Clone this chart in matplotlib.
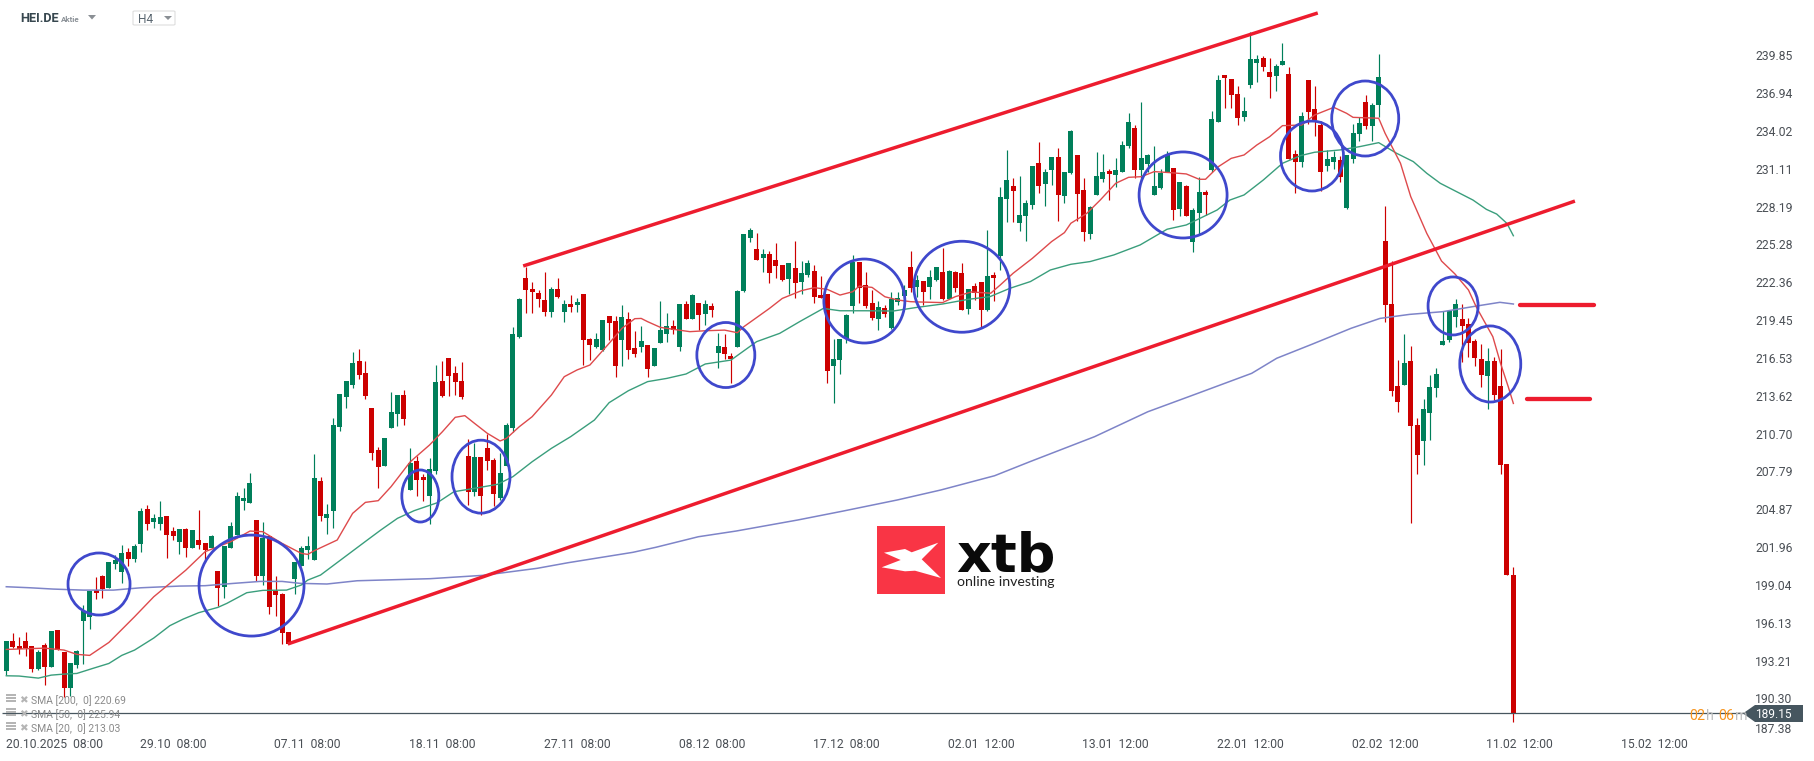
import matplotlib
matplotlib.use("Agg")
from matplotlib import pyplot as plt
from matplotlib.patches import Ellipse, Polygon, Rectangle, FancyBboxPatch

opens = [
    192.44, 194.72, 194.34, 194.72, 194.34, 192.57, 194.42, 192.72, 195.57, 193.88,
    191.10, 192.88, 196.26, 196.57, 198.63, 199.73, 198.81, 200.66, 200.04, 201.58,
    201.04, 202.20, 204.89, 203.89, 203.74, 204.35, 203.20, 202.35, 203.35, 201.89,
    202.51, 202.27, 201.89, 200.12, 198.88, 201.89, 202.89, 205.51, 205.36, 204.05,
    199.73, 202.81, 198.58, 198.35, 195.42, 199.50, 200.50, 201.73, 200.96, 207.05,
    204.20, 204.74, 211.21, 213.52, 214.45, 216.30, 215.37, 212.68, 209.44, 208.21,
    211.14, 212.22, 213.68, 206.36, 208.59, 207.36, 205.90, 207.82, 214.76, 216.53,
    215.37, 214.76, 208.98, 206.21, 208.90, 209.60, 208.67, 205.74, 208.21, 211.14,
    218.15, 222.69, 221.85, 221.54, 221.00, 220.07, 221.85, 220.07, 220.69, 220.61,
    221.46, 217.99, 217.38, 217.15, 219.77, 219.38, 217.91, 219.53, 217.30, 217.38,
    217.53, 215.91, 217.68, 218.38, 218.99, 217.38, 220.69, 219.53, 220.76, 219.92,
    220.53, 216.91, 217.38, 216.68, 217.38, 221.69, 225.77, 224.93, 224.23, 224.54,
    224.08, 223.69, 222.61, 223.46, 222.38, 222.92, 223.23, 221.38, 221.46, 215.91,
    216.37, 217.99, 220.53, 223.92, 222.15, 220.76, 219.53, 220.38, 218.84, 220.84,
    221.30, 223.54, 222.00, 222.47, 222.00, 222.54, 223.16, 221.08, 223.16, 223.08,
    220.31, 222.08, 222.39, 220.23, 222.93, 224.39, 228.78, 229.78, 226.93, 227.47,
    228.32, 231.56, 229.94, 231.02, 232.02, 229.01, 230.79, 232.17, 229.48, 226.09,
    229.09, 230.32, 230.94, 230.63, 230.86, 232.87, 234.25, 231.02, 231.48, 229.09,
    229.63, 230.86, 231.17, 228.01, 229.78, 225.47, 227.70, 229.32, 231.01, 234.71,
    238.33, 238.02, 236.87, 235.10, 237.56, 239.26, 239.64, 238.56, 238.26, 239.10,
    238.41, 232.25, 231.63, 237.95, 235.71, 234.48, 231.32, 231.63, 231.78, 228.09,
    231.86, 233.79, 236.25, 234.40, 236.02, 225.54, 220.69, 214.37, 214.45, 216.30,
    211.37, 210.13, 212.29, 214.22, 217.53, 217.91, 219.69, 219.53, 219.15, 217.84,
    216.45, 215.14, 216.30, 214.37, 208.36, 199.81,
]
closes = [
    194.72, 194.26, 194.11, 194.18, 192.57, 193.88, 192.72, 195.49, 194.03, 191.10,
    193.03, 193.95, 197.04, 198.58, 198.42, 198.73, 200.81, 200.96, 201.50, 201.04,
    202.04, 204.74, 203.74, 204.20, 204.28, 202.89, 202.81, 203.35, 201.89, 203.28,
    202.12, 201.73, 202.81, 198.81, 202.04, 203.58, 205.90, 205.74, 206.90, 199.73,
    202.66, 197.34, 198.27, 195.34, 194.49, 200.81, 201.89, 202.04, 207.28, 204.36,
    204.51, 211.37, 213.76, 214.76, 216.14, 215.22, 213.60, 209.21, 208.13, 210.37,
    212.37, 213.68, 211.83, 208.44, 207.13, 207.13, 207.98, 214.68, 213.60, 215.14,
    214.68, 213.52, 206.21, 208.90, 205.90, 208.59, 206.05, 207.67, 211.37, 218.38,
    221.07, 221.77, 221.61, 221.07, 220.07, 221.85, 221.23, 220.69, 220.46, 220.84,
    217.92, 217.53, 217.99, 219.46, 219.23, 215.91, 219.69, 217.14, 216.84, 217.84,
    215.68, 217.30, 218.68, 218.99, 218.68, 220.69, 219.53, 221.38, 219.84, 220.69,
    220.23, 217.45, 216.84, 216.45, 221.69, 226.08, 226.39, 224.08, 224.54, 223.08,
    223.62, 222.54, 223.85, 222.31, 223.08, 223.85, 221.23, 221.15, 215.53, 216.45,
    217.99, 219.84, 223.92, 221.92, 220.53, 219.61, 220.46, 219.92, 221.07, 221.15,
    221.77, 221.93, 222.54, 221.62, 222.77, 223.54, 221.08, 223.24, 221.93, 220.23,
    221.85, 221.54, 220.23, 222.85, 222.70, 228.94, 230.25, 229.40, 227.55, 228.47,
    231.33, 229.78, 230.86, 232.02, 229.09, 230.86, 234.02, 229.17, 226.24, 228.17,
    230.56, 230.86, 230.71, 231.02, 232.94, 234.72, 231.02, 231.94, 232.17, 229.78,
    230.79, 232.17, 227.94, 230.09, 227.47, 227.94, 229.32, 229.09, 234.94, 237.95,
    238.10, 236.79, 235.02, 235.56, 239.57, 239.57, 238.95, 238.18, 239.03, 239.41,
    231.86, 231.63, 235.17, 235.48, 234.87, 230.86, 231.86, 232.02, 230.47, 232.17,
    233.86, 234.63, 234.40, 236.02, 238.18, 220.61, 213.99, 213.14, 216.14, 211.29,
    209.05, 212.60, 214.29, 215.30, 217.84, 220.15, 220.69, 218.99, 217.68, 216.53,
    215.22, 216.30, 213.68, 208.28, 199.81, 189.15,
]
highs = [
    194.72, 195.31, 195.01, 195.42, 194.34, 194.03, 194.54, 195.49, 195.57, 193.88,
    193.03, 194.03, 197.50, 198.58, 199.65, 199.81, 200.81, 201.35, 202.12, 201.89,
    202.20, 204.97, 205.20, 204.51, 205.51, 204.35, 203.51, 203.35, 203.43, 203.28,
    204.82, 202.27, 202.89, 200.12, 202.04, 203.89, 206.20, 206.51, 207.67, 204.05,
    203.89, 202.81, 199.73, 198.42, 195.42, 200.81, 202.04, 202.81, 209.13, 207.36,
    205.28, 211.91, 213.76, 214.76, 216.99, 217.22, 216.30, 212.68, 209.67, 210.37,
    213.91, 213.68, 214.06, 209.60, 208.98, 207.59, 208.83, 215.99, 216.30, 216.53,
    215.91, 216.22, 210.29, 209.98, 208.90, 210.67, 208.83, 209.21, 211.52, 218.92,
    221.15, 223.54, 222.38, 221.77, 223.15, 222.00, 222.69, 221.00, 221.38, 221.15,
    221.46, 218.07, 218.46, 219.46, 219.77, 219.77, 220.61, 220.07, 218.61, 218.99,
    217.53, 217.30, 220.92, 219.99, 219.46, 220.69, 220.92, 221.46, 220.76, 221.00,
    220.76, 218.45, 218.38, 216.91, 221.77, 226.08, 226.54, 226.16, 224.93, 224.77,
    225.39, 223.69, 223.85, 225.54, 224.00, 224.08, 223.69, 222.85, 221.46, 217.99,
    217.99, 219.92, 224.46, 223.92, 223.15, 221.77, 220.92, 220.61, 221.61, 221.61,
    222.15, 224.78, 222.93, 222.47, 223.31, 223.54, 225.01, 223.31, 223.24, 223.85,
    221.85, 222.31, 222.39, 226.39, 223.16, 229.71, 232.56, 230.40, 230.56, 228.71,
    231.33, 233.17, 231.09, 232.02, 232.71, 230.86, 234.10, 232.17, 230.40, 228.24,
    232.40, 232.25, 231.09, 231.94, 233.25, 235.41, 234.48, 236.26, 232.25, 232.87,
    231.09, 232.48, 231.17, 230.09, 229.86, 228.09, 230.48, 229.48, 235.56, 238.33,
    238.33, 238.02, 237.49, 236.64, 241.65, 239.87, 239.80, 239.64, 239.18, 240.80,
    238.95, 232.55, 235.48, 237.95, 237.49, 234.79, 232.55, 232.48, 232.09, 232.17,
    234.56, 235.10, 236.79, 236.18, 239.95, 228.24, 224.00, 216.37, 218.38, 217.45,
    211.91, 213.37, 215.22, 215.76, 220.15, 220.15, 221.07, 220.69, 219.61, 217.99,
    217.61, 217.30, 216.60, 217.22, 208.36, 200.43,
]
lows = [
    192.10, 194.16, 193.70, 193.59, 192.36, 192.49, 191.33, 192.72, 194.03, 190.44,
    190.49, 192.67, 192.95, 195.65, 197.96, 198.04, 198.81, 200.27, 199.19, 200.50,
    200.81, 201.58, 203.28, 203.43, 203.28, 201.12, 202.51, 201.43, 201.20, 201.89,
    201.81, 200.81, 201.89, 197.42, 198.04, 201.89, 202.89, 204.82, 205.36, 199.35,
    199.04, 196.80, 196.65, 194.49, 194.49, 198.35, 200.50, 201.04, 200.96, 203.97,
    202.97, 203.43, 210.91, 212.68, 214.22, 214.91, 213.37, 208.67, 206.51, 208.21,
    211.14, 211.29, 211.37, 206.36, 205.90, 205.51, 203.74, 207.59, 213.52, 213.60,
    213.68, 213.37, 205.20, 205.90, 204.43, 207.90, 205.13, 205.59, 208.21, 210.83,
    218.07, 220.00, 220.00, 220.46, 219.77, 219.69, 221.15, 219.30, 220.07, 220.07,
    215.99, 216.38, 217.30, 217.07, 217.92, 215.07, 215.91, 216.45, 216.60, 216.99,
    215.06, 215.91, 217.68, 217.76, 218.38, 217.07, 219.53, 219.53, 218.68, 219.07,
    219.69, 215.76, 216.45, 214.60, 217.38, 221.61, 225.46, 224.08, 223.15, 222.31,
    222.69, 222.46, 221.46, 221.15, 221.46, 222.77, 220.76, 221.15, 214.60, 213.06,
    215.30, 217.68, 219.99, 220.76, 220.38, 219.46, 218.68, 219.69, 218.76, 220.61,
    221.12, 221.62, 221.26, 220.62, 221.08, 222.47, 221.00, 221.08, 221.62, 220.23,
    219.92, 221.00, 218.92, 220.15, 220.92, 223.31, 227.01, 227.01, 226.32, 225.55,
    228.01, 229.25, 228.24, 229.86, 227.09, 228.47, 230.71, 227.09, 225.55, 225.70,
    229.09, 230.09, 228.71, 229.71, 230.86, 232.71, 230.40, 230.32, 230.86, 229.09,
    229.55, 230.86, 227.17, 227.47, 227.47, 224.70, 226.01, 227.55, 230.86, 234.71,
    235.79, 235.79, 234.48, 234.79, 237.33, 237.79, 238.64, 236.56, 237.10, 239.10,
    231.86, 229.24, 231.25, 234.56, 233.63, 229.40, 230.94, 231.09, 230.09, 228.01,
    231.55, 233.25, 234.17, 233.25, 235.10, 219.30, 213.60, 212.37, 214.45, 203.82,
    207.59, 208.28, 210.21, 213.52, 217.53, 217.76, 218.92, 216.22, 216.60, 215.91,
    214.29, 212.60, 213.29, 207.59, 199.81, 188.49,
]

# moving averages at a set of candle numbers
sma20_i = [0, 3, 6, 9, 11, 13, 16, 20, 23, 28, 31, 35, 38, 40, 43, 46, 47, 48,
           51.6, 54, 56, 58, 60, 63, 66, 68, 70, 71.5, 73, 75, 77, 78, 80, 82, 85,
           87, 89, 91, 94, 96, 98, 99, 100, 102, 104, 106.6, 109, 112, 114, 115,
           119, 121, 124, 126, 128, 130, 132, 133, 135, 137, 139, 141, 142, 146,
           148, 150.5, 153.5, 155, 157, 160, 163, 165, 166, 168.5, 170.6, 173,
           175, 177, 179, 181.5, 184, 186, 187, 189, 191, 193, 195, 197, 199, 202,
           204, 207, 209, 210, 214, 215, 217.4, 219, 221.5, 223.8, 225.9, 228,
           229.2, 231.8, 233, 234.2, 235]
sma20 = [194.08, 194.13, 194.18, 194.03, 193.70, 193.62, 194.62, 196.60, 198.14,
         200.19, 201.61, 202.38, 203.20, 203.15, 202.25, 201.48, 201.40, 201.68,
         202.51, 204.56, 205.41, 205.54, 206.62, 208.54, 209.83, 210.85, 211.96,
         212.09, 211.50, 210.73, 210.14, 210.34, 211.24, 212.01, 213.68, 215.09,
         215.61, 215.99, 217.66, 218.81, 219.56, 219.58, 219.33, 218.89, 218.74,
         218.56, 218.63, 218.68, 218.48, 218.94, 220.35, 221.12, 221.72, 221.95,
         221.82, 221.38, 221.64, 222.07, 221.97, 221.25, 221.00, 220.87, 220.85,
         220.80, 221.26, 221.62, 221.52, 222.16, 223.06, 224.21, 225.50, 226.19,
         226.91, 227.68, 228.71, 229.99, 230.45, 230.50, 230.89, 230.81, 230.71,
         230.30, 230.30, 231.27, 231.91, 232.17, 232.94, 233.58, 234.43, 234.48,
         235.25, 235.84, 235.38, 235.07, 235.00, 233.84, 231.53, 228.96, 226.13,
         224.00, 223.00, 221.77, 220.48, 218.17, 216.12, 214.32, 213.03]

sma50_i = [0, 2, 5, 7, 9, 11, 13.5, 16, 18, 20, 23, 25.5, 27.6, 30, 33, 34.4, 37.5,
           40, 43.7, 46, 47, 49, 56.3, 58.4, 61, 63.6, 67.2, 69.8, 73, 76.6, 79, 82,
           85, 88, 91.7, 94, 97, 100, 103, 106, 109, 113, 117, 120.6, 123.7, 127.4,
           130, 134, 138.3, 142, 146, 150, 153.4, 156.5, 159.7, 162.8, 166, 169,
           172.7, 176.8, 181, 184, 188.8, 190.8, 193, 196, 199, 201.8, 204, 208,
           211, 214, 216.8, 219.4, 221.5, 223.6, 228.7, 230.8, 232.4, 234, 235]
sma50 = [192.05, 192.03, 191.87, 192.10, 192.18, 192.23, 192.62, 193.00, 193.62,
         194.03, 194.96, 195.91, 196.42, 196.91, 197.32, 197.63, 198.45, 198.63,
         198.65, 199.04, 199.42, 199.81, 202.51, 203.28, 204.18, 204.77, 205.38,
         206.23, 206.49, 206.80, 207.39, 208.54, 209.57, 210.47, 211.75, 213.09,
         214.01, 214.71, 214.96, 215.30, 216.07, 216.37, 217.79, 218.43, 219.33,
         220.35, 220.17, 220.17, 220.15, 220.43, 220.69, 221.05, 221.26, 221.90,
         222.42, 223.31, 223.75, 223.96, 224.47, 225.24, 226.45, 226.78, 227.93,
         228.70, 229.09, 230.24, 231.53, 232.12, 232.38, 232.56, 232.81, 233.12,
         232.30, 231.66, 230.76, 229.99, 228.70, 227.98, 227.62, 226.90, 225.95]

sma200_i = [0, 3.7, 7.3, 12, 16.7, 21, 27, 31, 35.5, 39.6, 43, 45.8, 50, 54.7, 66.1,
            74.4, 82.8, 87.6, 97.7, 101.3, 107.9, 113.8, 123.4, 130.5, 138.9, 145.7,
            154.1, 159.6, 169.7, 178, 185.8, 194.2, 198.1, 203.6, 209.7, 214.2, 218.8,
            224, 229.2, 232.9, 235]
sma200 = [198.91, 198.83, 198.73, 198.65, 198.65, 198.83, 198.96, 198.99, 199.17,
          199.32, 199.32, 199.17, 199.12, 199.37, 199.53, 199.79, 200.33, 200.76,
          201.56, 201.95, 202.76, 203.20, 204.05, 204.74, 205.59, 206.36, 207.46,
          208.54, 210.47, 212.39, 213.81, 215.35, 216.51, 217.59, 218.82, 219.58,
          219.89, 220.10, 220.53, 220.82, 220.69]

# hand drawn marks: start candle, start price, end candle, end price
trend_lines = [(80.6, 223.62, 204.5, 243.11), (43.9, 194.50, 244.6, 228.62)]
level_lines = [(236.0, 247.6, 220.59), (237.1, 246.9, 213.35)]
# centre candle, centre price, width in candles, height in price
circles = [
    (14.46, 199.12, 9.67, 4.78), (38.24, 199.00, 16.37, 7.78),
    (64.56, 205.90, 5.77, 4.01), (74.02, 207.39, 9.04, 5.62),
    (112.2, 216.76, 9.04, 5.01), (133.8, 220.92, 12.63, 6.47),
    (149.0, 222.02, 14.97, 7.01), (183.5, 229.09, 13.72, 6.63),
    (203.6, 232.09, 9.82, 5.39), (211.9, 234.98, 10.45, 5.78),
    (225.6, 220.54, 7.80, 4.47), (231.4, 216.07, 9.51, 5.86),
]

price_ticks = [239.85, 236.94, 234.02, 231.11, 228.19, 225.28, 222.36, 219.45,
               216.53, 213.62, 210.70, 207.79, 204.87, 201.96, 199.04, 196.13,
               193.21, 190.30, 187.38]
date_ticks = [0, 26, 47, 68, 89, 110, 131, 152, 173, 194, 215, 236, 257]
date_labels = ["20.10.2025  08:00", "29.10  08:00", "07.11  08:00", "18.11  08:00",
               "27.11  08:00", "08.12  08:00", "17.12  08:00", "02.01  12:00",
               "13.01  12:00", "22.01  12:00", "02.02  12:00", "11.02  12:00",
               "15.02  12:00"]
last_price = 189.15
sma_labels = ["SMA [200,  0] 220.69", "SMA [50,  0] 225.94", "SMA [20,  0] 213.03"]

GREEN = "#007F5A"
RED = "#CC0000"
LINE_RED = "#ED1C2E"
CIRCLE = "#3F48CC"
TEXT = "#4A4F55"
W, H = 1815, 761


def px(x, y):
    return x / W, 1 - y / H


def poly(points, **kw):
    return Polygon([px(*p) for p in points], transform=plt.gcf().transFigure, **kw)


def draw_candles(ax):
    for i, (o, h, l, c) in enumerate(zip(opens, highs, lows, closes)):
        col = GREEN if c >= o else RED
        ax.vlines(i, l, h, color=col, lw=0.85, zorder=2)
        ax.bar(i, abs(c - o), bottom=min(o, c), width=0.78, color=col, lw=0, zorder=2)


def draw_header(fig):
    fig.text(*px(20, 18), "HEI.DE", color="#37474F", fontsize=9.2, weight="bold",
             family="Roboto", va="center")
    fig.text(*px(61, 19), "Aktie", color="#8A9096", fontsize=5.8, weight="bold",
             family="Roboto", va="center")
    fig.add_artist(poly([(88, 15), (96, 15), (92, 19.5)], color="#8A8F94", lw=0))
    fig.add_artist(FancyBboxPatch(px(133, 25), 42 / W, 14 / H, transform=fig.transFigure,
                                  boxstyle="round,pad=0,rounding_size=0.001",
                                  fc="white", ec="#DDDDDD", lw=0.8))
    fig.text(*px(138, 19.5), "H4", color="#5A6670", fontsize=8.6, family="Roboto", va="center")
    fig.add_artist(poly([(164, 16), (172, 16), (168, 20)], color="#8A8F94", lw=0))


def draw_legend(fig):
    for row, label in zip([701, 715, 729], sma_labels):
        for dy in (-6, -3, 0):
            fig.add_artist(Rectangle(px(6, row + dy + 1), 10 / W, 1.6 / H, color="#B5B5B5",
                                     lw=0, transform=fig.transFigure))
        fig.text(*px(23, row - 1), "\u2716", color="#B5B5B5", fontsize=7.5, va="center",
                 ha="center", family="DejaVu Sans")
        fig.text(*px(31, row), label, color="#8A8A8A", fontsize=7.5, va="center",
                 family="Roboto")


def draw_logo(fig):
    fig.add_artist(Rectangle(px(877, 594), 68 / W, 68 / H, color="#F93545", lw=0,
                             transform=fig.transFigure))
    x_shape = [(884, 552.7), (905, 549), (911.7, 552.3), (938.3, 542.7), (921.7, 559.3),
               (941, 578), (915, 570.7), (905, 571.3), (881.7, 567.3), (900.7, 560)]
    fig.add_artist(poly(x_shape, color="white", lw=0))
    fig.text(*px(956, 571), "xtb", color="#0A0A0A", fontsize=39, weight="bold",
             family="DejaVu Sans", va="baseline")
    fig.text(*px(957, 586), "online investing", color="#222222", fontsize=10.2,
             family="Lato", va="baseline")


def draw_price_tag(fig):
    tag = [(1743, 713.4), (1755, 705), (1803, 705), (1803, 722), (1755, 722)]
    fig.add_artist(poly(tag, color="#46565F", lw=0))
    fig.text(*px(1755, 714), f"{last_price:.2f}", color="white", fontsize=8.6,
             family="Roboto", va="center")
    x = 1689
    for part, col, width in [("02", "#F7941D", 17), ("h", "#BDBDBD", 12),
                             ("06", "#F7941D", 17), ("m", "#BDBDBD", 12)]:
        fig.text(*px(x, 716), part, color=col, fontsize=10.3, family="Roboto", va="center")
        x += width


def main():
    fig = plt.figure(figsize=(W / 100, H / 100), dpi=100)
    ax = fig.add_axes([0, (H - 736.4) / H, 1750 / W, 736.4 / H])
    for spine in ax.spines.values():
        spine.set_visible(False)
    ax.set_xlim(-0.982, 271.9)
    ax.set_ylim(187.38, 244.11)

    draw_candles(ax)
    ax.plot(sma200_i, sma200, color="#7E84C8", lw=1.1, zorder=3)
    ax.plot(sma50_i, sma50, color="#3A9E7C", lw=1.0, zorder=3)
    ax.plot(sma20_i, sma20, color="#DE4A4C", lw=1.0, zorder=3)
    ax.hlines(last_price, -0.7, 271.9, color="#47565F", lw=0.9, zorder=3)

    for x0, y0, x1, y1 in trend_lines:
        ax.plot([x0, x1], [y0, y1], color=LINE_RED, lw=2.5, zorder=4, solid_capstyle="butt")
    for x0, x1, y in level_lines:
        ax.plot([x0, x1], [y, y], color=LINE_RED, lw=3.1, zorder=4, solid_capstyle="round")
    for cx, cy, w, h in circles:
        ax.add_patch(Ellipse((cx, cy), w, h, fc="none", ec=CIRCLE, lw=2.0, zorder=5))

    ax.yaxis.tick_right()
    ax.set_yticks(price_ticks)
    ax.set_yticklabels([f"{v:.2f}" for v in price_ticks], family="Roboto", fontsize=8.7, color=TEXT)
    ax.set_xticks(date_ticks)
    ax.set_xticklabels(date_labels, family="Roboto", fontsize=8.7, color=TEXT)
    ax.tick_params(axis="y", length=0, pad=3.6)
    ax.tick_params(axis="x", length=0, pad=1)
    ax.get_xticklabels()[0].set_ha("left")
    ax.get_yticklabels()[-1].set_va("bottom")

    draw_header(fig)
    draw_legend(fig)
    draw_logo(fig)
    draw_price_tag(fig)

    fig.savefig("out.png", dpi=100)
    plt.close()


if __name__ == "__main__":
    main()
